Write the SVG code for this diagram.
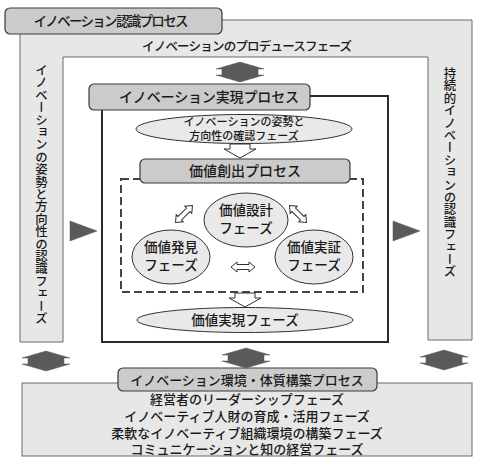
<svg xmlns="http://www.w3.org/2000/svg" width="480" height="461" viewBox="0 0 480 461">
<style>
text{font-family:"Noto Sans CJK JP","Noto Sans CJK SC",sans-serif;fill:#1a1a1a;text-anchor:middle;font-weight:500}
.lbl{fill:#cbcbcb;stroke:#3a3a3a;stroke-width:1.2}
.frame{fill:#e7e7e7;stroke:#6a6a6a;stroke-width:1}
.ell{fill:#e9e9e9;stroke:#333;stroke-width:1}
.dark{fill:#5a5a5a;stroke:#5a5a5a;stroke-width:0.5}
.hollow{fill:#fff;stroke:#333;stroke-width:1}
.vt{writing-mode:vertical-rl;text-anchor:start}
</style>
<defs>
<polygon id="dbl" points="0,-10 24,-3 18,-3 18,3 24,3 0,10 -24,3 -18,3 -18,-3 -24,-3"/>
<polygon id="down" points="-10,0 10,0 10,5 16,5 0,14 -16,5 -10,5"/>
<polygon id="hdbl" points="-12,0 -6,-5 -6,-2.5 6,-2.5 6,-5 12,0 6,5 6,2.5 -6,2.5 -6,5"/>
</defs>
<rect width="480" height="461" fill="#fff"/>

<g id="recognition-frame">
<path class="frame" d="M20,20 H472 V340 H428 V57 H63 V342 H20 Z"/>
<text x="247" y="51" font-size="12.5" textLength="210">イノベーションのプロデュースフェーズ</text>
<text class="vt" x="41.5" y="64" font-size="12.4">イノベーションの姿勢と方向性の認識フェーズ</text>
<text class="vt" x="450" y="67" font-size="12.4">持続的イノベーションの認識フェーズ</text>
</g>
<g id="recognition-label">
<rect class="lbl" x="5" y="8" width="217" height="26" rx="5"/>
<text x="111" y="26" font-size="13.5" textLength="155">イノベーション認識プロセス</text>
</g>

<g id="realization-process">
<rect x="102" y="96" width="286" height="246" fill="#fff" stroke="#2a2a2a" stroke-width="2"/>
<rect class="lbl" x="89" y="84" width="221" height="26" rx="5"/>
<text x="209" y="102" font-size="14" textLength="180">イノベーション実現プロセス</text>
</g>

<g id="posture-check">
<ellipse class="ell" cx="244" cy="129" rx="108" ry="14.5"/>
<text x="244" y="126" font-size="11">イノベーションの姿勢と</text>
<text x="244" y="140" font-size="11">方向性の確認フェーズ</text>
</g>

<g id="value-creation">
<rect x="121" y="179" width="242" height="113" fill="none" stroke="#444" stroke-width="2" stroke-dasharray="8,4"/>
<rect class="lbl" x="140" y="159" width="210" height="24" rx="5"/>
<text x="245" y="176" font-size="14">価値創出プロセス</text>
</g>

<g id="value-design">
<ellipse class="ell" cx="246" cy="220" rx="42" ry="27"/>
<text x="246" y="215" font-size="13.5">価値設計</text>
<text x="246" y="233" font-size="13.5">フェーズ</text>
</g>
<g id="value-discovery">
<ellipse class="ell" cx="171" cy="257" rx="39" ry="27"/>
<text x="171" y="252" font-size="13.5">価値発見</text>
<text x="171" y="270" font-size="13.5">フェーズ</text>
</g>
<g id="value-verification">
<ellipse class="ell" cx="314" cy="257" rx="39" ry="27"/>
<text x="314" y="252" font-size="13.5">価値実証</text>
<text x="314" y="270" font-size="13.5">フェーズ</text>
</g>

<g id="value-realization">
<ellipse class="ell" cx="245" cy="320" rx="108" ry="12.5"/>
<text x="245" y="325" font-size="13.5">価値実現フェーズ</text>
</g>

<g id="environment">
<rect class="frame" x="22" y="383" width="450" height="73" fill="#ececec"/>
<rect class="lbl" x="118" y="368" width="259" height="23" rx="5"/>
<text x="247" y="385" font-size="13">イノベーション環境・体質構築プロセス</text>
<text x="247" y="404" font-size="13">経営者のリーダーシップフェーズ</text>
<text x="247" y="421" font-size="13">イノベーティブ人財の育成・活用フェーズ</text>
<text x="247" y="438" font-size="13">柔軟なイノベーティブ組織環境の構築フェーズ</text>
<text x="247" y="454" font-size="13">コミュニケーションと知の経営フェーズ</text>
</g>

<g id="connectors">
<use href="#dbl" class="dark" x="240" y="72"/>
<use href="#dbl" class="dark" x="46" y="361"/>
<use href="#dbl" class="dark" x="246" y="358"/>
<use href="#dbl" class="dark" x="444" y="360"/>
<polygon class="dark" points="70,221 97,231 70,241"/>
<polygon class="dark" points="393,221 420,231 393,241"/>
<use href="#down" class="hollow" x="240" y="144"/>
<use href="#down" class="hollow" x="245" y="293"/>
<use href="#hdbl" class="hollow" transform="translate(184,214) rotate(-45)"/>
<use href="#hdbl" class="hollow" transform="translate(298,214) rotate(45)"/>
<use href="#hdbl" class="hollow" transform="translate(243,267)"/>
</g>
</svg>
